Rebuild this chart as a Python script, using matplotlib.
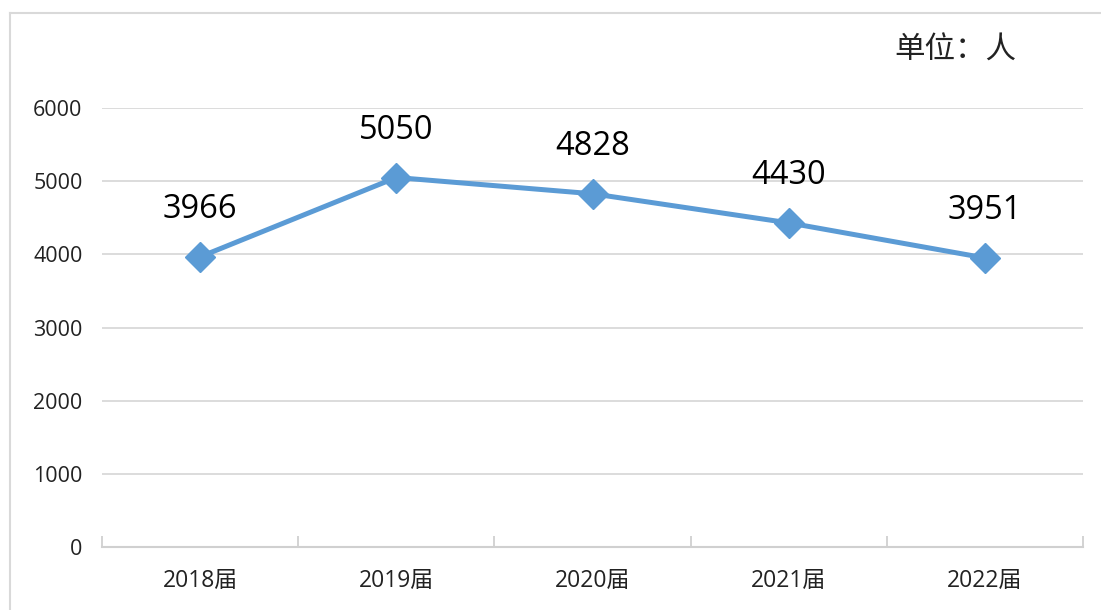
import matplotlib
matplotlib.use("Agg")
import matplotlib.pyplot as plt
from matplotlib.lines import Line2D

categories = ["2018届", "2019届", "2020届", "2021届", "2022届"]
values = [3966, 5050, 4828, 4430, 3951]
yticks = [0, 1000, 2000, 3000, 4000, 5000, 6000]
unit_text = "单位：人"

plt.rcParams['font.family'] = ['Open Sans', 'Noto Sans CJK SC', 'DejaVu Sans']

fig = plt.figure(figsize=(11.01, 6.10), dpi=100)
W, H = 1101, 610
ax = fig.add_axes([102 / W, 1 - 547 / H, (1083 - 102) / W, (547 - 108) / H])

color = "#5B9BD5"
x = list(range(len(categories)))
ax.plot(x, values, color=color, lw=3.6, marker="D", markersize=15, zorder=3, clip_on=False)

for xi, v in zip(x, values):
    ax.annotate(str(v), (xi, v), xytext=(0, 34), textcoords="offset points",
                ha="center", va="center", fontsize=23.5, color="black",
                family=['Open Sans', 'DejaVu Sans'])

ax.set_xlim(-0.5, len(categories) - 0.5)
ax.set_ylim(0, 6000)
ax.set_yticks(yticks)
ax.set_yticklabels([str(t) for t in yticks], fontsize=15.5, color="#222222")
ax.yaxis.grid(True, color="#D9D9D9", lw=1.3)
ax.set_axisbelow(True)
ax.tick_params(axis="y", length=0, pad=14)

# x axis: ticks at category boundaries, labels at centers
ax.set_xticks([i - 0.5 for i in range(len(categories) + 1)])
ax.set_xticklabels([])
ax.set_xticks(x, minor=True)
ax.set_xticklabels(categories, minor=True, fontsize=16.5, color="#222222")
ax.tick_params(axis="x", which="major", direction="in", length=8, color="#D0D0D0", width=1.3)
ax.tick_params(axis="x", which="minor", length=0, pad=16)

for s in ["top", "right", "left"]:
    ax.spines[s].set_visible(False)
ax.spines["bottom"].set_color("#D0D0D0")
ax.spines["bottom"].set_linewidth(1.5)

# outer chart frame (left and top visible)
fig.add_artist(Line2D([10 / W, 10 / W], [0, 1 - 13 / H], transform=fig.transFigure, color="#D9D9D9", lw=1.5))
fig.add_artist(Line2D([10 / W, 1], [1 - 13 / H, 1 - 13 / H], transform=fig.transFigure, color="#D9D9D9", lw=1.5))

fig.text(955 / W, 1 - 50 / H, unit_text, ha="center", va="center", fontsize=22,
         family=['Noto Sans CJK SC', 'DejaVu Sans'], color="#222222")

fig.savefig("out.png", dpi=100)
